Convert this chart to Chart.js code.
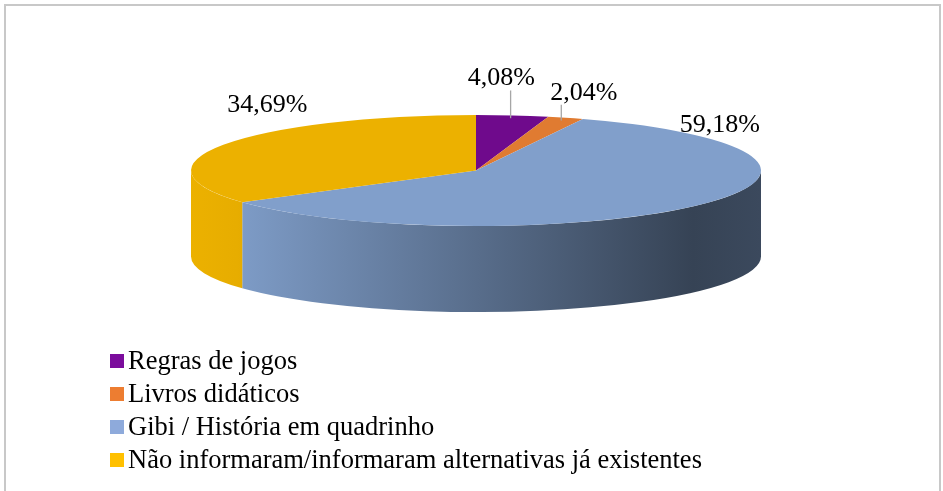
<!DOCTYPE html>
<html><head><meta charset="utf-8">
<script src="https://cdn.jsdelivr.net/npm/chart.js@4.4.1/dist/chart.umd.min.js"></script>
<style>
html,body{margin:0;padding:0;background:#fff;}
#wrap{position:relative;width:943px;height:491px;overflow:hidden;}
#frame{position:absolute;left:4px;top:4px;width:937px;height:600px;border:2px solid #c8c8c8;box-sizing:border-box;}
canvas{position:absolute;left:0;top:0;}
</style></head><body>
<div id="wrap"><div id="frame"></div><canvas id="c" width="943" height="491"></canvas></div>
<script>
const categories = ['Regras de jogos', 'Livros didáticos', 'Gibi / História em quadrinho', 'Não informaram/informaram alternativas já existentes'];
const percentages = [4.08, 2.04, 59.18, 34.69];
const sliceColors = ['#6f0a8c', '#e07b31', '#819fcb', '#ecb100'];
const legendColors = ['#7b0c9c', '#ed7d31', '#8eaadb', '#ffc000'];

function shade(hex, f) {
  const n = parseInt(hex.slice(1), 16);
  const c = [(n >> 16) & 255, (n >> 8) & 255, n & 255].map(v => Math.max(0, Math.min(255, Math.round(v * f))));
  return 'rgb(' + c.join(',') + ')';
}
function fmt(v) { return v.toFixed(2).replace('.', ',') + '%'; }

const pie3d = {
  id: 'pie3d',
  beforeDatasetsDraw(chart, args, opts) {
    const ca = chart.chartArea, ctx = chart.ctx;
    const meta = chart.getDatasetMeta(0);
    const a = meta.data[0];
    const cx = a.x, cy = a.y, r = a.outerRadius;
    const rx = ca.width / 2, ry = ca.height / 2, depth = opts.depth;
    meta.data.forEach((arc, i) => {
      const a0 = Math.max(arc.startAngle, 0), a1 = Math.min(arc.endAngle, Math.PI);
      if (a1 <= a0) return;
      const base = chart.data.datasets[0].backgroundColor[i];
      const g = ctx.createLinearGradient(cx - rx, 0, cx + rx, 0);
      g.addColorStop(0, shade(base, 1.0));
      g.addColorStop(0.08, shade(base, 0.98));
      g.addColorStop(0.88, shade(base, 0.42));
      g.addColorStop(1, shade(base, 0.46));
      ctx.save();
      ctx.beginPath();
      ctx.ellipse(cx, cy, rx, ry, 0, a0, a1, false);
      ctx.ellipse(cx, cy + depth, rx, ry, 0, a1, a0, true);
      ctx.closePath();
      ctx.fillStyle = g;
      ctx.fill();
      ctx.restore();
    });
    ctx.save();
    ctx.translate(cx, cy);
    ctx.scale(rx / r, ry / r);
    ctx.translate(-cx, -cy);
  },
  afterDatasetsDraw(chart, args, opts) {
    const ctx = chart.ctx, ca = chart.chartArea;
    ctx.restore();
    const meta = chart.getDatasetMeta(0);
    const rx = ca.width / 2, ry = ca.height / 2;
    const vals = chart.data.datasets[0].data;
    ctx.save();
    ctx.font = opts.labelFont;
    ctx.fillStyle = '#000';
    ctx.textAlign = 'center';
    ctx.textBaseline = 'middle';
    meta.data.forEach((arc, i) => {
      const m = (arc.startAngle + arc.endAngle) / 2;
      const ax = arc.x + rx * Math.cos(m), ay = arc.y + ry * Math.sin(m);
      const off = opts.labelOffsets[i];
      const lx = ax + off[0], ly = ay + off[1];
      const txt = fmt(vals[i]);
      ctx.fillText(txt, lx, ly);
      if (opts.leaders[i]) {
        const w = ctx.measureText(txt).width;
        const ex = arc.x + 0.95 * rx * Math.cos(m), ey = arc.y + 0.95 * ry * Math.sin(m);
        const sx = Math.max(lx - w / 2 + 2, Math.min(lx + w / 2 - 2, ex));
        ctx.beginPath();
        ctx.moveTo(sx, ly + 12);
        ctx.lineTo(ex, ey);
        ctx.strokeStyle = '#a6a6a6';
        ctx.lineWidth = 1.3;
        ctx.stroke();
      }
    });
    ctx.restore();
  },
  afterDraw(chart, args, opts) {
    const ctx = chart.ctx;
    const lg = opts.legend;
    ctx.save();
    ctx.font = lg.font;
    ctx.textBaseline = 'middle';
    ctx.textAlign = 'left';
    chart.data.labels.forEach((lab, i) => {
      const y = lg.top + i * lg.step;
      ctx.fillStyle = legendColors[i];
      ctx.fillRect(lg.left, y - lg.box / 2, lg.box, lg.box);
      ctx.fillStyle = '#000';
      ctx.fillText(lab, lg.left + lg.box + 4, y + 1);
    });
    ctx.restore();
  }
};

new Chart(document.getElementById('c'), {
  type: 'pie',
  data: {
    labels: categories,
    datasets: [{
      data: percentages,
      backgroundColor: sliceColors,
      borderWidth: 0,
      clip: false
    }]
  },
  options: {
    responsive: false,
    animation: false,
    events: [],
    layout: { padding: { left: 191, right: 182, top: 115, bottom: 265 } },
    plugins: {
      legend: { display: false },
      tooltip: { enabled: false },
      pie3d: {
        depth: 86,
        labelFont: '26px "Liberation Serif"',
        labelOffsets: [[-11, -37], [18, -25], [21, -80], [44, -40]],
        leaders: [true, true, false, false],
        legend: { left: 110, top: 361, step: 33, box: 14, font: '26.5px "Liberation Serif"' }
      }
    }
  },
  plugins: [pie3d]
});
</script>
</body></html>
